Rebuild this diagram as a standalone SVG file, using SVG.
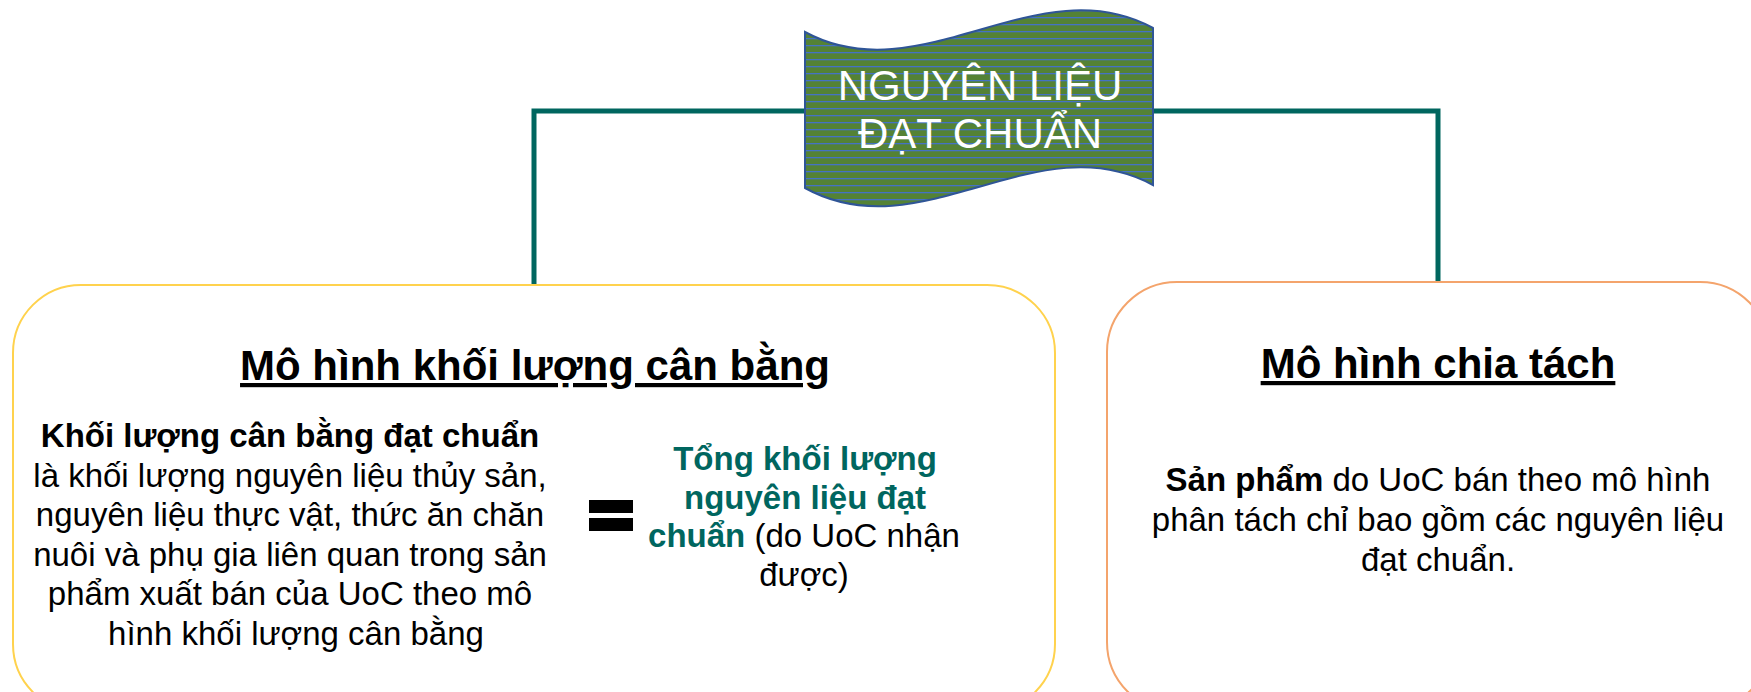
<svg xmlns="http://www.w3.org/2000/svg" width="1751" height="692" viewBox="0 0 1751 692">
  <style>
    text { font-family: "Liberation Sans", Arial, sans-serif; }
    .title { font-size: 42px; font-weight: bold; fill: #000; text-decoration: underline; text-anchor: middle; }
    .body { font-size: 33px; fill: #000; text-anchor: middle; }
    .b { font-weight: bold; }
    .teal { fill: #00665F; font-weight: bold; }
    .banner-text { font-size: 42px; fill: #FFFFFF; text-anchor: middle; }
    .conn { fill: none; stroke: #00665F; stroke-width: 5; stroke-linejoin: miter; }
  </style>
  <defs>
    <pattern id="stripes" patternUnits="userSpaceOnUse" width="8" height="7">
      <rect width="8" height="7" fill="#548235"/>
      <rect y="3" width="8" height="1.3" fill="#4472C4"/>
    </pattern>
  </defs>
  <rect width="1751" height="692" fill="#FFFFFF"/>

  <g id="connectors">
    <polyline class="conn" points="805,111 534,111 534,286"/>
    <polyline class="conn" points="1153,111 1438,111 1438,283"/>
  </g>

  <g id="node-left">
    <rect x="13" y="285" width="1042" height="427" rx="68" ry="68" fill="#FFFFFF" stroke="#FFD24D" stroke-width="2"/>
    <text class="title" x="535" y="380">Mô hình khối lượng cân bằng</text>
    <text class="body" x="290" y="447"><tspan class="b">Khối lượng cân bằng đạt chuẩn</tspan></text>
    <text class="body" x="290" y="486.5">là khối lượng nguyên liệu thủy sản,</text>
    <text class="body" x="290" y="526">nguyên  liệu thực vật, thức ăn chăn</text>
    <text class="body" x="290" y="565.5">nuôi và phụ gia liên quan trong sản</text>
    <text class="body" x="290" y="605">phẩm xuất bán của UoC theo mô</text>
    <text class="body" x="296" y="644.5">hình khối lượng cân bằng</text>
    <rect x="589" y="500" width="44" height="13" fill="#000"/>
    <rect x="589" y="518" width="44" height="13" fill="#000"/>
    <text class="body" x="805" y="470"><tspan class="teal">Tổng khối lượng</tspan></text>
    <text class="body" x="805" y="508.5"><tspan class="teal">nguyên liệu đạt</tspan></text>
    <text class="body" x="804" y="547"><tspan class="teal">chuẩn</tspan> (do UoC nhận</text>
    <text class="body" x="804" y="585.5">được)</text>
  </g>

  <g id="node-right">
    <rect x="1107" y="282" width="663" height="430" rx="70" ry="70" fill="#FFFFFF" stroke="#F4A46C" stroke-width="2"/>
    <text class="title" x="1438" y="378">Mô hình chia tách</text>
    <text class="body" x="1438" y="491"><tspan class="b">Sản phẩm</tspan> do UoC bán theo mô hình</text>
    <text class="body" x="1438" y="531">phân tách chỉ bao gồm các nguyên  liệu</text>
    <text class="body" x="1438" y="571">đạt chuẩn.</text>
  </g>

  <g id="node-banner">
    <path d="M805,32 C921,95 1037,-35 1153,28 L1153,185 C1037,122 921,252 805,188 Z" fill="url(#stripes)" stroke="#2F5597" stroke-width="2"/>
    <text class="banner-text" x="980" y="100">NGUYÊN LIỆU</text>
    <text class="banner-text" x="980" y="148">ĐẠT CHUẨN</text>
  </g>
</svg>
